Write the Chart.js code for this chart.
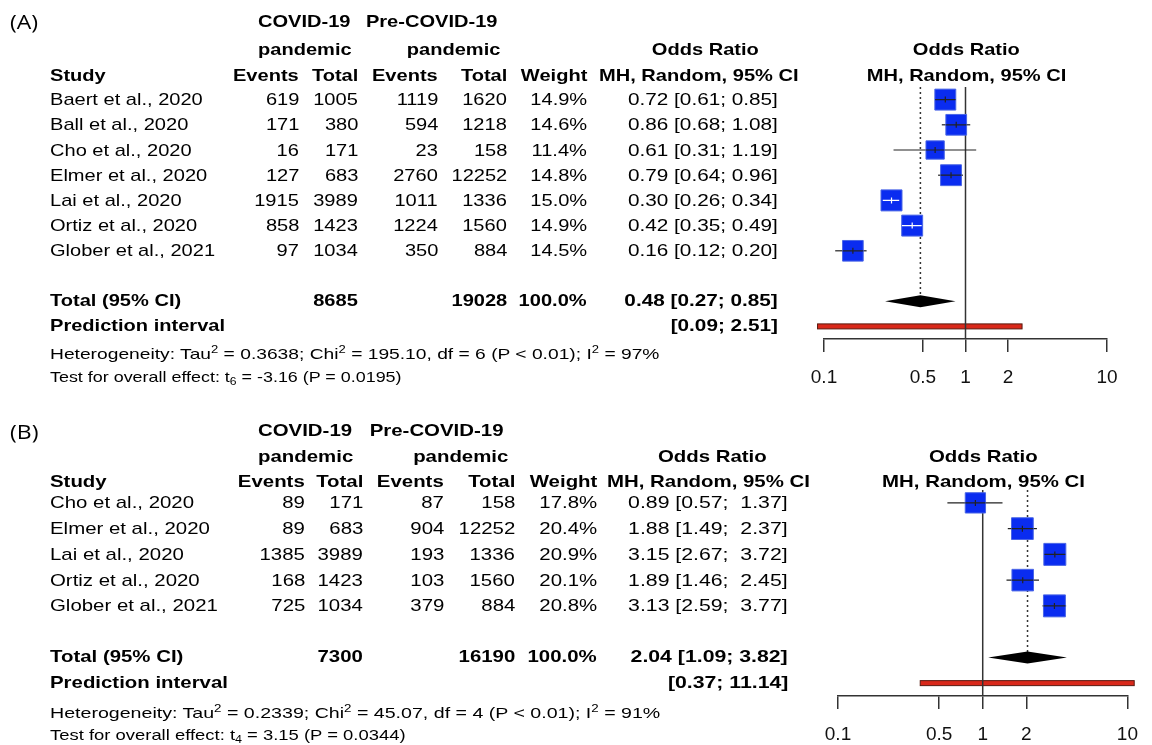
<!DOCTYPE html>
<html><head><meta charset="utf-8">
<script src="https://cdn.jsdelivr.net/npm/chart.js@4.4.0/dist/chart.umd.min.js"></script>
<style>
html,body{margin:0;padding:0;background:#fff;width:1152px;height:745px;overflow:hidden;}
#page{position:relative;width:1152px;height:745px;background:#fff;}
canvas{position:absolute;left:0;}
.t{position:absolute;white-space:pre;font-family:"Liberation Sans",Arial,sans-serif;color:#000;}
.t sup{font-size:0.68em;vertical-align:0.55em;line-height:0;}
.t sub{font-size:0.68em;vertical-align:-0.3em;line-height:0;}
</style></head><body><div id="page">
<canvas id="cA" style="top:0px" width="1152" height="395"></canvas>
<canvas id="cB" style="top:390px" width="1152" height="355"></canvas>
</div>
<script>
// ---------- DATA: panel (A) ----------
const studiesA = ["Baert et al., 2020","Ball et al., 2020","Cho et al., 2020","Elmer et al., 2020","Lai et al., 2020","Ortiz et al., 2020","Glober et al., 2021"];
const eventsCovidA = [619,171,16,127,1915,858,97];
const totalCovidA = [1005,380,171,683,3989,1423,1034];
const eventsPreA = [1119,594,23,2760,1011,1224,350];
const totalPreA = [1620,1218,158,12252,1336,1560,884];
const weightA = [14.9,14.6,11.4,14.8,15.0,14.9,14.5];
const orA = [0.72,0.86,0.61,0.79,0.30,0.42,0.16];
const lowerA = [0.61,0.68,0.31,0.64,0.26,0.35,0.12];
const upperA = [0.85,1.08,1.19,0.96,0.34,0.49,0.20];
const pooledA = [0.48,0.27,0.85];
const predA = [0.09,2.51];
const sumCovidA = 8685, sumPreA = 19028;
const hetA = {tau2:"0.3638", chi2:"195.10", df:6, i2:97, t:"-3.16", p:"0.0195"};

// ---------- DATA: panel (B) ----------
const studiesB = ["Cho et al., 2020","Elmer et al., 2020","Lai et al., 2020","Ortiz et al., 2020","Glober et al., 2021"];
const eventsCovidB = [89,89,1385,168,725];
const totalCovidB = [171,683,3989,1423,1034];
const eventsPreB = [87,904,193,103,379];
const totalPreB = [158,12252,1336,1560,884];
const weightB = [17.8,20.4,20.9,20.1,20.8];
const orB = [0.89,1.88,3.15,1.89,3.13];
const lowerB = [0.57,1.49,2.67,1.46,2.59];
const upperB = [1.37,2.37,3.72,2.45,3.77];
const pooledB = [2.04,1.09,3.82];
const predB = [0.37,11.14];
const sumCovidB = 7300, sumPreB = 16190;
const hetB = {tau2:"0.2339", chi2:"45.07", df:4, i2:91, t:"3.15", p:"0.0344"};

const axisTicks = [0.1,0.5,1,2,10];

// ---------- styling / layout ----------
const SQUARE_FILL = '#0a2cf0', SQUARE_EDGE = '#4a66e6';
const LINE_COL = '#333333';
// colour of CI line drawn over each square (white when the CI lies inside the box)
const ciColA = ['#222','#222','#222','#222','#fff','#fff','#222'];
const ciColB = ['#222','#222','#222','#222','#222'];

function put(x, y, html, o) {
  o = o || {};
  const el = document.createElement('div');
  el.className = 't';
  const size = o.size || 17;
  const lh = size + 4;
  el.style.fontSize = size + 'px';
  el.style.lineHeight = lh + 'px';
  el.style.top = (y - lh / 2) + 'px';
  if (o.bold) el.style.fontWeight = 'bold';
  if (o.family) el.style.fontFamily = o.family;
  el.innerHTML = html;
  document.getElementById('page').appendChild(el);
  let sx = o.sx || 1.18;
  if (o.fitW) sx = o.fitW / el.offsetWidth;
  const align = o.align || 'left';
  if (align === 'left') { el.style.left = x + 'px'; el.style.transformOrigin = '0 50%'; el.style.transform = 'scaleX(' + sx + ')'; }
  else if (align === 'right') { el.style.right = (1152 - x) + 'px'; el.style.transformOrigin = '100% 50%'; el.style.transform = 'scaleX(' + sx + ')'; }
  else { const w = el.offsetWidth; el.style.left = (x - w / 2) + 'px'; el.style.transformOrigin = '50% 50%'; el.style.transform = 'scaleX(' + sx + ')'; }
  return el;
}

function makeForest(canvasId, P) {
  const n = P.or.length;
  const diamondRow = n + 2, predRow = n + 3;
  const wmax = Math.max(...P.weight);
  const sides = P.weight.map(w => P.boxMax * Math.sqrt(w / wmax));
  const plugin = {
    id: 'forest_' + canvasId,
    beforeDatasetsDraw(chart) {
      const {ctx, chartArea: a, scales: {x, y}} = chart;
      ctx.save();
      // prediction interval bar
      const px1 = x.getPixelForValue(P.pred[0]), px2 = x.getPixelForValue(P.pred[1]);
      const py = y.getPixelForValue(predRow);
      ctx.fillStyle = '#d9281a'; ctx.strokeStyle = '#5a1a10'; ctx.lineWidth = 1;
      ctx.fillRect(px1, py - 2.5, px2 - px1, 5);
      ctx.strokeRect(px1, py - 2.5, px2 - px1, 5);
      // line of no effect
      const x1 = x.getPixelForValue(1);
      ctx.strokeStyle = LINE_COL; ctx.lineWidth = 1.5;
      ctx.beginPath(); ctx.moveTo(x1, a.top); ctx.lineTo(x1, a.bottom); ctx.stroke();
      // dotted pooled estimate line
      const xp = x.getPixelForValue(P.pooled[0]);
      ctx.setLineDash([2, 3]);
      ctx.beginPath(); ctx.moveTo(xp, a.top); ctx.lineTo(xp, y.getPixelForValue(diamondRow)); ctx.stroke();
      ctx.setLineDash([]);
      // CI lines beneath squares
      ctx.strokeStyle = '#222'; ctx.lineWidth = 1.2;
      for (let i = 0; i < n; i++) {
        const yy = y.getPixelForValue(i + 1);
        ctx.beginPath(); ctx.moveTo(x.getPixelForValue(P.lo[i]), yy); ctx.lineTo(x.getPixelForValue(P.hi[i]), yy); ctx.stroke();
      }
      ctx.restore();
    },
    afterDatasetsDraw(chart) {
      const {ctx, scales: {x, y}} = chart;
      ctx.save();
      ctx.lineWidth = 1.2;
      for (let i = 0; i < n; i++) {
        const yy = y.getPixelForValue(i + 1);
        const xc = x.getPixelForValue(P.or[i]);
        const half = sides[i] / 2;
        ctx.strokeStyle = P.ciCol[i];
        ctx.beginPath();
        ctx.moveTo(Math.max(x.getPixelForValue(P.lo[i]), xc - half), yy);
        ctx.lineTo(Math.min(x.getPixelForValue(P.hi[i]), xc + half), yy);
        ctx.moveTo(xc, yy - 3); ctx.lineTo(xc, yy + 3);
        ctx.stroke();
      }
      // pooled diamond
      const dy = y.getPixelForValue(diamondRow);
      ctx.fillStyle = '#000';
      ctx.beginPath();
      ctx.moveTo(x.getPixelForValue(P.pooled[1]), dy);
      ctx.lineTo(x.getPixelForValue(P.pooled[0]), dy - 6);
      ctx.lineTo(x.getPixelForValue(P.pooled[2]), dy);
      ctx.lineTo(x.getPixelForValue(P.pooled[0]), dy + 6);
      ctx.closePath(); ctx.fill();
      ctx.restore();
    }
  };
  const cv = document.getElementById(canvasId);
  return new Chart(cv.getContext('2d'), {
    type: 'scatter',
    data: {
      datasets: [{
        data: P.or.map((v, i) => ({x: v, y: i + 1})),
        pointStyle: 'rect',
        pointRadius: sides.map(s => s / Math.SQRT2),
        pointHoverRadius: sides.map(s => s / Math.SQRT2),
        backgroundColor: SQUARE_FILL,
        borderColor: SQUARE_EDGE,
        borderWidth: 1,
        clip: false
      }]
    },
    options: {
      responsive: false, animation: false, events: [],
      layout: {padding: {left: P.left, right: 1152 - P.right, top: P.top, bottom: 0}},
      plugins: {legend: {display: false}, tooltip: {enabled: false}},
      scales: {
        x: {
          type: 'logarithmic', min: 0.1, max: 10, position: 'bottom',
          afterBuildTicks: s => { s.ticks = axisTicks.map(v => ({value: v})); },
          afterFit: s => { s.height = P.axisH; },
          ticks: {callback: v => String(v), autoSkip: false, maxRotation: 0, minRotation: 0, padding: 14,
                  color: '#111', font: {family: 'Liberation Sans', size: 19}},
          grid: {drawOnChartArea: false, drawTicks: true, tickLength: 13, color: LINE_COL, lineWidth: 1.5},
          border: {display: true, color: LINE_COL, width: 1.5}
        },
        y: {type: 'linear', display: false, reverse: true, min: 0.5, max: predRow + 0.5}
      }
    },
    plugins: [plugin]
  });
}

const chartA = makeForest('cA', {or: orA, lo: lowerA, hi: upperA, weight: weightA, pooled: pooledA, pred: predA,
  ciCol: ciColA, boxMax: 21, left: 824, right: 1107, top: 87, axisH: 56});
const chartB = makeForest('cB', {or: orB, lo: lowerB, hi: upperB, weight: weightB, pooled: pooledB, pred: predB,
  ciCol: ciColB, boxMax: 22, left: 838, right: 1128, top: 100, axisH: 49});

function fmtCI(v, lo, hi, w) {
  return v.toFixed(2) + ' [' + lo.toFixed(2) + '; ' + hi.toFixed(2).padStart(w, ' ') + ']';
}

function drawTable(T) {
  const sx = T.sx;
  const B = {bold: true, sx: sx};
  put(10, T.yLabel, T.label, {family: '"Open Sans","Noto Sans",sans-serif', size: 20, sx: 1.15});
  put(T.covidL, T.yTitle, 'COVID-19', B);
  put(T.preR, T.yTitle, 'Pre-COVID-19', Object.assign({align: 'right'}, B));
  put(T.covidL, T.yPand, 'pandemic', B);
  put(T.pand2R, T.yPand, 'pandemic', Object.assign({align: 'right'}, B));
  put(T.orHeadC, T.yPand, 'Odds Ratio', Object.assign({align: 'center'}, B));
  put(T.plotHeadC, T.yPand, 'Odds Ratio', Object.assign({align: 'center'}, B));
  put(T.plotHeadC, T.yHead, 'MH, Random, 95% CI', Object.assign({align: 'center'}, B));
  put(50, T.yHead, 'Study', B);
  ['Events', 'Total', 'Events', 'Total', 'Weight'].forEach((h, k) =>
    put(T.colR[k], T.yHead, h, Object.assign({align: 'right'}, B)));
  put(T.mhL, T.yHead, 'MH, Random, 95% CI', B);
  const ys = T.chart.scales.y, off = T.canvasTop;
  const n = T.studies.length;
  for (let i = 0; i < n; i++) {
    const y = ys.getPixelForValue(i + 1) + off;
    put(50, y, T.studies[i], {sx: sx});
    const vals = [T.ec[i], T.tc[i], T.ep[i], T.tp[i], T.w[i].toFixed(1) + '%'];
    vals.forEach((v, k) => put(T.colR[k], y, String(v), {align: 'right', sx: sx}));
    put(T.orR, y, fmtCI(T.or[i], T.lo[i], T.hi[i], T.padW), {align: 'right', sx: T.orSx});
  }
  const yT = ys.getPixelForValue(n + 2) + off - 1;
  put(50, yT, 'Total (95% CI)', B);
  put(T.colR[1], yT, String(T.sumC), Object.assign({align: 'right'}, B));
  put(T.colR[3], yT, String(T.sumP), Object.assign({align: 'right'}, B));
  put(T.colR[4], yT, '100.0%', Object.assign({align: 'right'}, B));
  put(T.orR, yT, fmtCI(T.pooled[0], T.pooled[1], T.pooled[2], 4), {align: 'right', bold: true, sx: T.orSx});
  const yP = ys.getPixelForValue(n + 3) + off - 1;
  put(50, yP, 'Prediction interval', B);
  put(T.orR, yP, '[' + T.pred[0].toFixed(2) + '; ' + T.pred[1].toFixed(2) + ']', {align: 'right', bold: true, sx: T.orSx});
  const h = T.het;
  put(50, T.yHet, 'Heterogeneity: Tau<sup>2</sup> = ' + h.tau2 + '; Chi<sup>2</sup> = ' + h.chi2 + ', df = ' + h.df +
      ' (P &lt; 0.01); I<sup>2</sup> = ' + h.i2 + '%', {size: 15, fitW: T.hetW});
  put(50, T.yTest, 'Test for overall effect: t<sub>' + h.df + '</sub> = ' + h.t + ' (P = ' + h.p + ')', {size: 15, fitW: T.testW});
}

drawTable({label: '(A)', chart: chartA, canvasTop: 0, sx: 1.18, orSx: 1.22, studies: studiesA,
  ec: eventsCovidA, tc: totalCovidA, ep: eventsPreA, tp: totalPreA, w: weightA, or: orA, lo: lowerA, hi: upperA,
  pooled: pooledA, pred: predA, sumC: sumCovidA, sumP: sumPreA, het: hetA, padW: 4,
  covidL: 258, preR: 497, pand2R: 500, orHeadC: 705, plotHeadC: 966, colR: [299, 358, 438, 507, 587], orR: 778, mhL: 599,
  yLabel: 22, yTitle: 21, yPand: 49, yHead: 75, yHet: 353, yTest: 376, hetW: 610, testW: 351});

drawTable({label: '(B)', chart: chartB, canvasTop: 390, sx: 1.2, orSx: 1.25, studies: studiesB,
  ec: eventsCovidB, tc: totalCovidB, ep: eventsPreB, tp: totalPreB, w: weightB, or: orB, lo: lowerB, hi: upperB,
  pooled: pooledB, pred: predB, sumC: sumCovidB, sumP: sumPreB, het: hetB, padW: 5,
  covidL: 258, preR: 503, pand2R: 508, orHeadC: 712, plotHeadC: 983, colR: [305, 363, 444, 515, 597], orR: 788, mhL: 607,
  yLabel: 432, yTitle: 430, yPand: 456, yHead: 481, yHet: 712, yTest: 734, hetW: 610, testW: 355});
</script>
</body></html>
